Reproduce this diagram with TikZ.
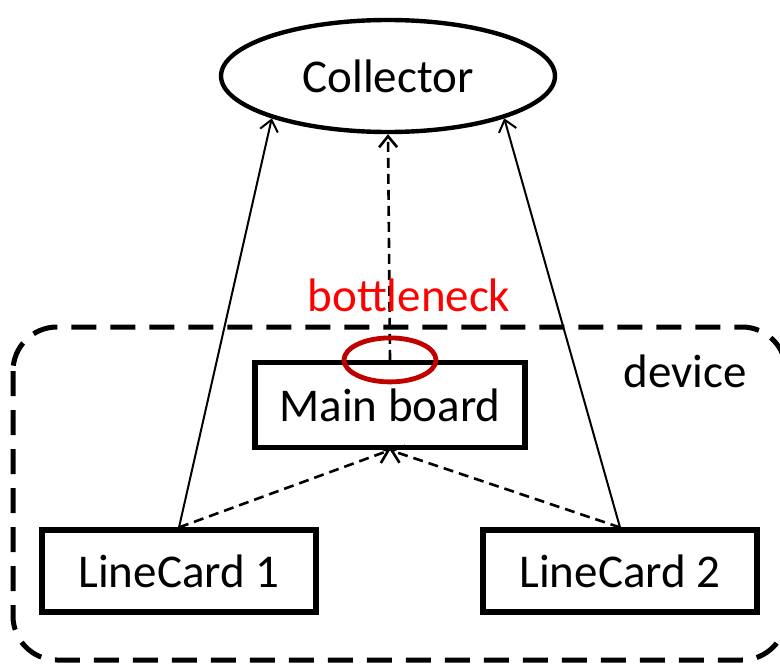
\documentclass[tikz,border=0pt]{standalone}
\usepackage{fontspec}
\setmainfont{Carlito}
\usetikzlibrary{shapes.geometric,arrows.meta}
\definecolor{darkred}{HTML}{C00000}

\begin{document}
\begin{tikzpicture}[x=0.5pt,y=-0.5pt,
    box/.style={draw, line width=2.6pt, inner sep=0pt, font=\fontsize{23.5}{28}\selectfont},
    link/.style={line width=1pt, -{Straight Barb[length=5.5pt,width=9pt]}},
    dlink/.style={line width=1.3pt, dash pattern=on 5pt off 3pt, -{Straight Barb[length=5.5pt,width=9pt]}}]
    \useasboundingbox (0,0) rectangle (780,664);

    % the device
    \draw[line width=2.5pt, dash pattern=on 12.5pt off 7pt, rounded corners=22pt] (13,327) rectangle (786,660);
    \node[font=\fontsize{23.5}{28}\selectfont] (dev) at (685,371) {device};

    \node[box, ellipse, line width=2.2pt, minimum width=167pt, minimum height=56pt] (collector) at (388,76) {Collector};
    \node[box, minimum width=135pt, minimum height=42.5pt] (main) at (390,405) {Main board};
    \node[box, minimum width=137pt, minimum height=41pt] (lc1) at (179,571) {LineCard 1};
    \node[box, minimum width=137pt, minimum height=41pt] (lc2) at (620,571) {LineCard 2};

    \draw[link] (lc1.north) -- (collector.200);
    \draw[link] (lc2.north) -- (collector.340);
    \draw[dlink] (main.north) -- (collector.south);
    \draw[dlink] (lc1.north) -- (main.south);
    \draw[dlink] (lc2.north) -- (main.south);

    % bottleneck
    \node[draw=darkred, ellipse, line width=2.4pt, minimum width=46pt, minimum height=22pt, inner sep=0pt] (neck) at (main.north) {};
    \node[text=red, font=\fontsize{23.5}{28}\selectfont] (necklabel) at (409,295) {bottleneck};
\end{tikzpicture}
\end{document}
